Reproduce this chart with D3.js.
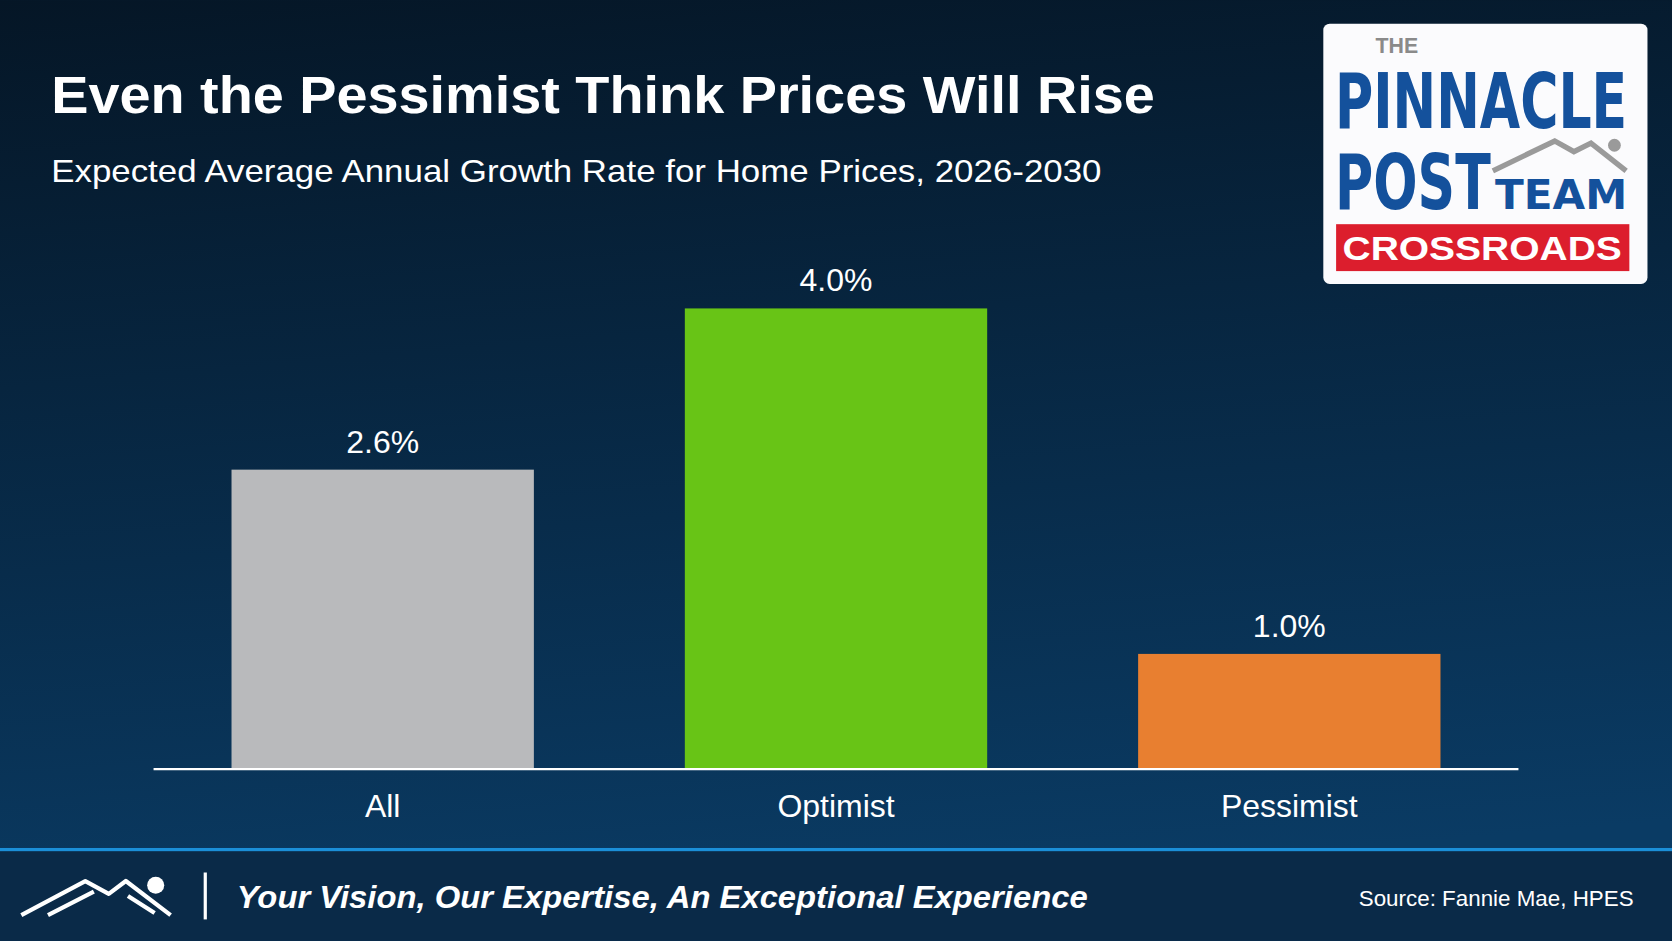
<!DOCTYPE html>
<html><head><meta charset="utf-8">
<script src="https://cdn.jsdelivr.net/npm/d3@7"></script>
<style>html,body{margin:0;padding:0;overflow:hidden;background:#06192b}</style>
</head><body>
<script>
const categories = ["All", "Optimist", "Pessimist"];
const values = [2.6, 4.0, 1.0];
const valueLabels = ["2.6%", "4.0%", "1.0%"];
const barColors = ["#b9babc", "#68c416", "#e87f30"];

const W = 1568, H = 882;
const svg = d3.select("body").append("svg")
    .attr("width", 1672).attr("height", 941)
    .attr("viewBox", `0 0 ${W} ${H}`);

const defs = svg.append("defs");
const bg = defs.append("linearGradient").attr("id", "bg")
    .attr("x1", 0).attr("y1", 0).attr("x2", 0.15).attr("y2", 1);
bg.append("stop").attr("offset", "0%").attr("stop-color", "#051626");
bg.append("stop").attr("offset", "100%").attr("stop-color", "#0a3b64");
svg.append("rect").attr("width", W).attr("height", H).attr("fill", "url(#bg)");

const sans = "Liberation Sans, Arial, sans-serif";

// Title
svg.append("text").attr("x", 48).attr("y", 106)
    .attr("font-family", sans).attr("font-weight", "bold")
    .attr("font-size", 48).attr("fill", "#fff")
    .attr("textLength", 1035).attr("lengthAdjust", "spacingAndGlyphs")
    .text("Even the Pessimist Think Prices Will Rise");
svg.append("text").attr("x", 48).attr("y", 170)
    .attr("font-family", sans)
    .attr("font-size", 30).attr("fill", "#fff")
    .attr("textLength", 985).attr("lengthAdjust", "spacingAndGlyphs")
    .text("Expected Average Annual Growth Rate for Home Prices, 2026-2030");

// Scales
const x = d3.scaleBand().domain(categories).range([144, 1424]).paddingInner(0.333).paddingOuter(0.172);
const y = d3.scaleLinear().domain([0, 4.0]).range([721, 289]);

svg.selectAll(".bar").data(categories).join("rect")
    .attr("x", d => x(d)).attr("width", x.bandwidth())
    .attr("y", (d, i) => y(values[i])).attr("height", (d, i) => y(0) - y(values[i]))
    .attr("fill", (d, i) => barColors[i]);

svg.selectAll(".val").data(categories).join("text")
    .attr("x", d => x(d) + x.bandwidth() / 2).attr("y", (d, i) => y(values[i]) - 16)
    .attr("text-anchor", "middle").attr("fill", "#fff")
    .attr("font-family", sans).attr("font-size", 30)
    .text((d, i) => valueLabels[i]);

const xAxis = svg.append("g").attr("transform", `translate(0,${y(0)})`)
    .call(d3.axisBottom(x).tickSize(0).tickPadding(24));
xAxis.select(".domain").attr("stroke", "#fff").attr("stroke-width", 2).attr("d", "M144,0H1424");
xAxis.selectAll("text").attr("fill", "#fff").attr("font-size", 30)
    .attr("font-family", sans);

// Footer
svg.append("rect").attr("x", 0).attr("y", 797).attr("width", W).attr("height", 85).attr("fill", "#0a2a48");
svg.append("rect").attr("x", 0).attr("y", 795).attr("width", W).attr("height", 3).attr("fill", "#1b8fd8");
svg.append("path").attr("d", "M20,858 L80,826 L102,838 L118,826 L160,858 M45,858 L88,836 M120,840 L145,856")
    .attr("fill", "none").attr("stroke", "#fff").attr("stroke-width", 4).attr("stroke-linejoin", "round");
svg.append("circle").attr("cx", 146).attr("cy", 830).attr("r", 8).attr("fill", "#fff");
svg.append("rect").attr("x", 191).attr("y", 818).attr("width", 3).attr("height", 44).attr("fill", "#fff");
svg.append("text").attr("x", 222).attr("y", 851)
    .attr("font-family", sans).attr("font-weight", "bold").attr("font-style", "italic")
    .attr("font-size", 30).attr("fill", "#fff")
    .attr("textLength", 798).attr("lengthAdjust", "spacingAndGlyphs")
    .text("Your Vision, Our Expertise, An Exceptional Experience");
svg.append("text").attr("x", 1532).attr("y", 849).attr("text-anchor", "end")
    .attr("font-family", sans)
    .attr("font-size", 21).attr("fill", "#fff")
    .text("Source: Fannie Mae, HPES");

// Logo
const logo = svg.append("g");
logo.append("rect").attr("x", 1241).attr("y", 22).attr("width", 304).attr("height", 244).attr("rx", 6).attr("fill", "#fbfbfd");
const cond = "DejaVu Sans Condensed, Liberation Sans Narrow, sans-serif";
logo.append("text").attr("x", 1290).attr("y", 49).attr("font-family", sans)
    .attr("font-weight", "bold").attr("font-size", 20).attr("fill", "#8a8a8a").text("THE");
logo.append("text").attr("x", 1252).attr("y", 120).attr("font-family", cond)
    .attr("font-weight", "bold").attr("font-size", 72).attr("fill", "#14519c")
    .attr("textLength", 274).attr("lengthAdjust", "spacingAndGlyphs").text("PINNACLE");
logo.append("text").attr("x", 1252).attr("y", 196).attr("font-family", cond)
    .attr("font-weight", "bold").attr("font-size", 72).attr("fill", "#14519c")
    .attr("textLength", 146).attr("lengthAdjust", "spacingAndGlyphs").text("POST");
logo.append("path").attr("d", "M1400,160 L1458,132 L1476,142 L1492,134 L1525,160")
    .attr("fill", "none").attr("stroke", "#9a9a9a").attr("stroke-width", 5);
logo.append("circle").attr("cx", 1514).attr("cy", 136).attr("r", 6).attr("fill", "#9a9a9a");
logo.append("text").attr("x", 1402).attr("y", 196).attr("font-family", cond)
    .attr("font-weight", "bold").attr("font-size", 38).attr("fill", "#14519c")
    .attr("textLength", 124).attr("lengthAdjust", "spacingAndGlyphs").text("TEAM");
logo.append("rect").attr("x", 1253).attr("y", 210).attr("width", 275).attr("height", 44).attr("fill", "#dc1e2d");
logo.append("text").attr("x", 1390).attr("y", 244).attr("text-anchor", "middle")
    .attr("font-family", sans).attr("font-weight", "bold")
    .attr("font-size", 32).attr("fill", "#fff")
    .attr("textLength", 262).attr("lengthAdjust", "spacingAndGlyphs").text("CROSSROADS");
</script>
</body></html>
